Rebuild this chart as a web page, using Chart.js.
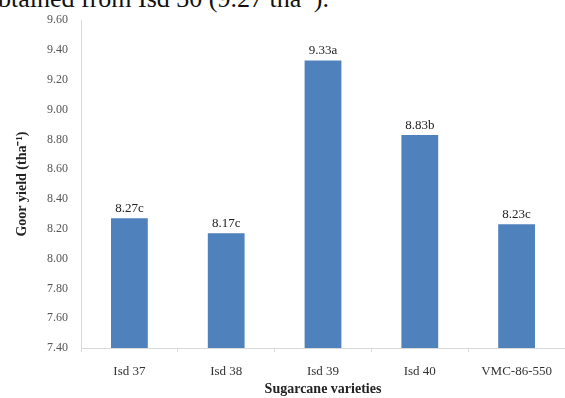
<!DOCTYPE html>
<html>
<head>
<meta charset="utf-8">
<script src="https://cdn.jsdelivr.net/npm/chart.js@4"></script>
<style>
  html, body { margin: 0; padding: 0; background: #fff; }
  body { width: 565px; height: 398px; position: relative; overflow: hidden; }
  #caption { position: absolute; left: -2px; top: -16px; font-family: "Liberation Serif", serif; font-size: 26px; color: #111; white-space: nowrap; }
  #wrap { position: absolute; left: 0; top: 0; width: 565px; height: 398px; }
</style>
</head>
<body>
<div id="caption">btained from Isd 30 (9.27 tha<sup style="font-size:15px">-1</sup>).</div>
<div id="wrap"><canvas id="canvas"></canvas></div>
<script>
  // values
  var varieties = ['Isd 37', 'Isd 38', 'Isd 39', 'Isd 40', 'VMC-86-550'];
  var yields = [8.27, 8.17, 9.33, 8.83, 8.23];
  var letters = ['c', 'c', 'a', 'b', 'c'];

  // simple label-above-bar plugin
  const barLabels = {
    id: 'barLabels',
    afterDatasetsDraw(chart) {
      const ctx = chart.ctx;
      const meta = chart.getDatasetMeta(0);
      ctx.save();
      ctx.font = '13px "Liberation Serif", serif';
      ctx.fillStyle = '#222';
      ctx.textAlign = 'center';
      ctx.textBaseline = 'bottom';
      meta.data.forEach(function(bar, i){
        ctx.fillText(yields[i].toFixed(2) + letters[i], bar.x, bar.y - 3);
      });
      ctx.restore();
    }
  };

  const data = {
    labels: varieties,
    datasets: [{
      data: yields,
      backgroundColor: '#4f81bd',
      borderWidth: 0,
      barPercentage: 0.38,
      categoryPercentage: 1
    }]
  };

  const config = {
    type: 'bar',
    data: data,
    plugins: [barLabels],
    options: {
      responsive: true,
      maintainAspectRatio: false,
      animation: false,
      layout: { padding: { top: 17, right: 0, left: 0, bottom: 0 } },
      plugins: { legend: { display: false }, tooltip: { enabled: false } },
      scales: {
        x: {
          afterFit: function(s){ s.height = 50; },
          grid: { display: true, drawOnChartArea: false, offset: true, tickLength: 4, color: '#d9d9d9' },
          border: { color: '#d9d9d9' },
          ticks: { font: { family: '"Liberation Serif", serif', size: 13 }, color: '#333', padding: 12 },
          title: { display: true, text: 'Sugarcane varieties', font: { family: '"Liberation Serif", serif', size: 14, weight: 'bold' }, color: '#222', padding: { top: 0, bottom: 0 } }
        },
        y: {
          min: 7.4,
          max: 9.6,
          afterFit: function(s){ s.width = 81; },
          grid: { display: false, drawTicks: false },
          border: { display: true, color: '#d9d9d9' },
          ticks: {
            stepSize: 0.2,
            padding: 13,
            color: '#555',
            font: { family: '"Liberation Serif", serif', size: 12 },
            callback: function(v){ return Number(v).toFixed(2); }
          },
          title: { display: true, text: 'Goor yield (tha⁻¹)', font: { family: '"Liberation Serif", serif', size: 14, weight: 'bold' }, color: '#222', padding: { top: 14, bottom: 0 } }
        }
      }
    }
  };

  const chart = new Chart(document.getElementById('canvas'), config);
</script>
</body>
</html>
